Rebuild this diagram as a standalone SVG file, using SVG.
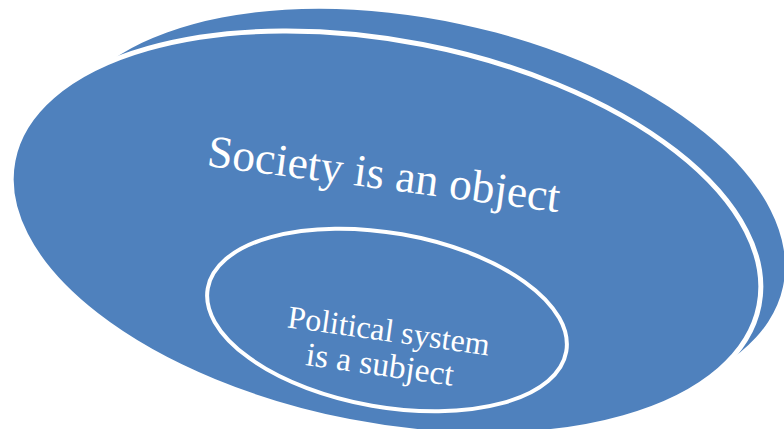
<svg xmlns="http://www.w3.org/2000/svg" width="784" height="429" viewBox="0 0 784 429">
  <style>
    .blob { fill: #4f81bd; }
    .ring { fill: #4f81bd; stroke: #ffffff; }
    .lbl { fill: #ffffff; font-family: "Liberation Serif", "Times New Roman", serif; text-anchor: middle; }
  </style>
  <rect width="784" height="429" fill="#ffffff"/>
  <g id="back">
    <ellipse class="blob" cx="421" cy="210" rx="370" ry="190" transform="rotate(12 421 210)"/>
  </g>
  <g id="society">
    <ellipse class="ring" stroke-width="5" cx="386" cy="233" rx="380" ry="192" transform="rotate(11 386 233)"/>
    <text class="lbl" x="382" y="189" font-size="45.5" transform="rotate(7.5 382 189)">Society is an object</text>
  </g>
  <g id="political">
    <ellipse class="ring" stroke-width="4" cx="387" cy="320" rx="182" ry="87" transform="rotate(10 387 320)"/>
    <g transform="rotate(8 384 358)">
      <text class="lbl" x="385" y="341" font-size="32">Political system</text>
      <text class="lbl" x="381" y="376" font-size="33.5">is a subject</text>
    </g>
  </g>
  <g id="connectors"/>
</svg>
